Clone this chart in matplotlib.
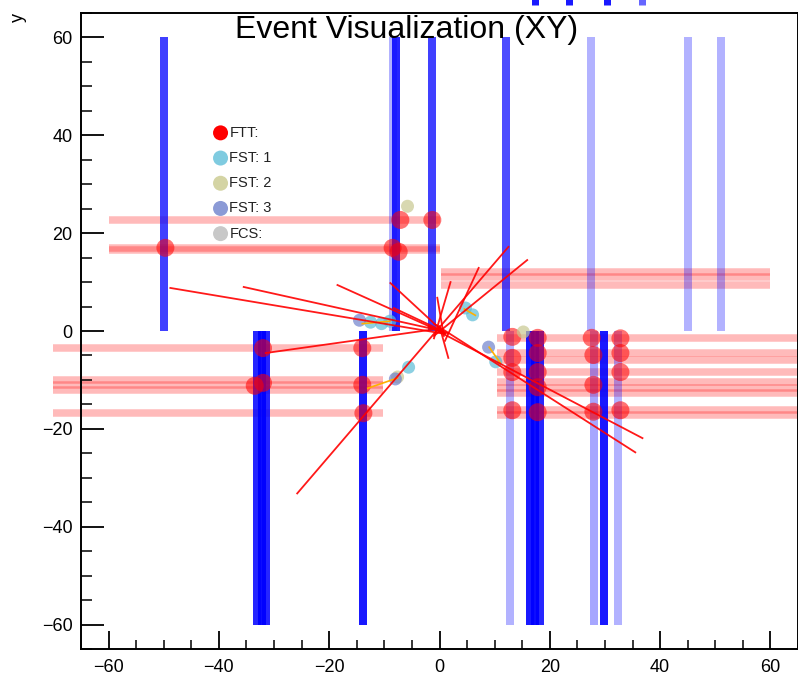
import matplotlib
matplotlib.use("Agg")
import matplotlib.pyplot as plt
import numpy as np

plt.rcParams['font.family'] = ['Liberation Sans', 'DejaVu Sans']

# ---------------- data ----------------
# detector strips (vertical): x, y range, hit weight (0..1)
strip_x  = [-50.0, -8.4, -7.8, -1.4, 12.1, 27.5, 45.1, 51.1,
            -33.0, -32.2, -31.4, -13.9, 12.8, 16.4, 17.3, 18.2, 28.0, 29.9, 32.4]
strip_y0 = [0, 0, 0, 0, 0, 0, 0, 0,
            0, 0, 0, 0, 0, 0, 0, 0, 0, 0, 0]
strip_y1 = [60, 60, 60, 60, 60, 60, 60, 60,
            -60, -60, -60, -60, -60, -60, -60, -60, -60, -60, -60]
strip_w  = [0.75, 0.3, 0.85, 0.75, 0.7, 0.3, 0.3, 0.3,
            0.85, 0.95, 0.85, 0.9, 0.3, 0.9, 0.95, 0.85, 0.35, 0.9, 0.3]

# partially visible strips above the frame
top_mark_x = [17.3, 23.5, 30.3, 36.8]
top_mark_w = [0.9, 0.9, 0.9, 0.6]

# FTT strips (horizontal): y, x range
hstrip_y  = [22.7, 17.0, 16.5, 12.0, 11.0, 9.5,
             -3.5, -10.0, -11.0, -12.0, -16.8,
             -1.5, -4.5, -5.9, -8.4, -10.4, -11.7, -12.7, -16.2, -17.2]
hstrip_x0 = [-60, -60, -60, 0.2, 0.2, 0.2,
             -70, -70, -70, -70, -70,
             10.5, 10.5, 10.5, 10.5, 10.5, 10.5, 10.5, 10.5, 10.5]
hstrip_x1 = [0, 0, 0, 60, 60, 60,
             -10.2, -10.2, -10.2, -10.2, -10.2,
             70, 70, 70, 70, 70, 70, 70, 70, 70]

# FTT points
ftt_x = [-49.7, -7.1, -1.3, -8.5, -7.4, -32.0, -33.5, -32.0, -14.0, -14.0, -13.8,
         13.2, 13.2, 13.2, 13.2, 17.8, 17.8, 17.8, 17.8, 17.8,
         27.6, 27.9, 27.9, 27.9, 32.8, 32.8, 32.8, 32.8]
ftt_y = [17.0, 22.7, 22.7, 17.0, 16.2, -3.5, -11.2, -10.6, -3.5, -11.0, -16.8,
         -1.2, -5.5, -8.4, -16.2, -1.4, -4.5, -8.4, -11.5, -16.6,
         -1.4, -4.9, -11.0, -16.5, -1.5, -4.5, -8.4, -16.2]

# FST points per station
fst1_x = [-12.5, -10.5, -9.0, -5.6, 4.7, 6.0, 10.2]
fst1_y = [1.8, 1.5, 2.0, -7.4, 4.7, 3.3, -6.3]
fst2_x = [-5.8, 15.2, -7.6]
fst2_y = [25.5, -0.2, -9.4]
fst3_x = [-14.5, 8.9, -8.0]
fst3_y = [2.2, -3.3, -9.8]

# FST track stubs
stub_x0 = [-13.0, -14.0, 4.5, 9.0]
stub_y0 = [-11.7, 1.5, 4.5, -3.3]
stub_x1 = [-7.6, -9.0, 6.5, 11.0]
stub_y1 = [-9.6, 2.0, 3.2, -6.5]

# reconstructed tracks
trk_x0 = [-48.8, -35.5, -18.5, -31.5, -25.8, 15.9, 7.1, -0.4, 36.8, 35.5, 1.6, -8.9, -8.3, 2.0]
trk_y0 = [8.8, 9.0, 9.4, -4.5, -33.2, 14.5, 12.9, 6.8, -21.9, -24.8, -5.5, 9.8, 4.7, 10.0]
trk_x1 = [0.5, 0.5, 1.0, 0.0, 12.5, -1.0, 1.0, 0.8, -2.0, -1.0, 0.0, 1.0, 1.5, -1.0]
trk_y1 = [-0.5, 0.0, -0.5, 0.5, 17.2, -1.0, -2.0, -1.0, 1.0, 1.5, 1.0, -0.5, -0.5, -1.5]

legend_labels = ["FTT:", "FST: 1", "FST: 2", "FST: 3", "FCS:"]
legend_colors = ["#ff0000", "#7fcbe0", "#d4d4a4", "#8b9ad6", "#c8c8c8"]

x_ticks = [-60, -40, -20, 0, 20, 40, 60]
y_ticks = [-60, -40, -20, 0, 20, 40, 60]

# ---------------- figure ----------------
W, H = 798, 676
fig = plt.figure(figsize=(W / 100, H / 100), dpi=100)
ax = fig.add_axes([81 / W, 27 / H, 717 / W, 636 / H])
ax.set_xlim(-65, 65)
ax.set_ylim(-65, 65)

px = 72 / 100  # points per pixel

# horizontal FTT strips
for y, a, b in zip(hstrip_y, hstrip_x0, hstrip_x1):
    ax.plot([a, b], [y, y], color="#ff0000", alpha=0.27, lw=7.5 * px,
            solid_capstyle="butt", clip_on=False, zorder=1)

# vertical strips
for x, a, b, w in zip(strip_x, strip_y0, strip_y1, strip_w):
    ax.plot([x, x], [a, b], color="#0000ff", alpha=w, lw=8 * px,
            solid_capstyle="butt", zorder=2)

for x, w in zip(top_mark_x, top_mark_w):
    ax.plot([x, x], [66.6, 70], color="#0000ff", alpha=w, lw=7 * px,
            solid_capstyle="butt", clip_on=False, zorder=2)

# FTT points
ax.scatter(ftt_x, ftt_y, s=(18 * px) ** 2, color="#ff0000", alpha=0.55,
           edgecolors="none", zorder=3)

# FST points
ax.scatter(fst1_x, fst1_y, s=(13 * px) ** 2, color="#5bbcd6", alpha=0.7, edgecolors="none", zorder=4)
ax.scatter(fst2_x, fst2_y, s=(13 * px) ** 2, color="#c8c890", alpha=0.7, edgecolors="none", zorder=4)
ax.scatter(fst3_x, fst3_y, s=(13 * px) ** 2, color="#6f82cc", alpha=0.7, edgecolors="none", zorder=4)
for a, b, c, d in zip(stub_x0, stub_y0, stub_x1, stub_y1):
    ax.plot([a, c], [b, d], color="#ffb000", lw=1.2, zorder=5)

# tracks
for a, b, c, d in zip(trk_x0, trk_y0, trk_x1, trk_y1):
    ax.plot([a, c], [b, d], color="#ff0000", lw=1.3, alpha=0.9, zorder=6)

# legend
lx, ly, dy = -39.7, 40.5, -5.15
for i, (lab, col) in enumerate(zip(legend_labels, legend_colors)):
    ax.scatter([lx], [ly + i * dy], s=(15 * px) ** 2, color=col, edgecolors="none", zorder=7)
    ax.text(lx + 1.6, ly + i * dy, lab, fontsize=10.5, va="center", ha="left",
            color="#222222", zorder=7)

# axes styling (ROOT-like)
for s in ["top", "right", "left", "bottom"]:
    ax.spines[s].set_linewidth(1.4)
ax.set_xticks(x_ticks)
ax.set_yticks(y_ticks)
ax.set_xticks(np.arange(-65, 66, 5), minor=True)
ax.set_yticks(np.arange(-65, 66, 5), minor=True)
ax.tick_params(axis="x", which="major", direction="in", length=18 * px, width=1.3,
               labelsize=13, pad=7, top=False)
ax.tick_params(axis="x", which="minor", direction="in", length=9 * px, width=1.1, top=False)
ax.tick_params(axis="y", which="major", direction="in", length=23 * px, width=1.3,
               labelsize=13, pad=6, right=False)
ax.tick_params(axis="y", which="minor", direction="in", length=11 * px, width=1.1, right=False)

fig.text(407 / W, 1 - 30 / H, "Event Visualization (XY)", fontsize=23,
         ha="center", va="center")
fig.text(18 / W, 1 - 18 / H, "y", fontsize=13, rotation=90, ha="center", va="center")

fig.savefig("out.png", dpi=100)
